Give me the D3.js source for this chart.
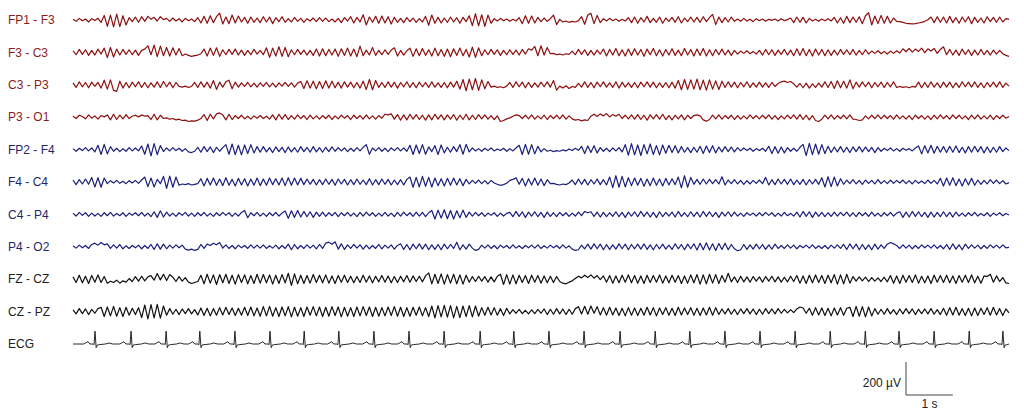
<!DOCTYPE html>
<html>
<head>
<meta charset="utf-8">
<script src="https://cdn.jsdelivr.net/npm/d3@7"></script>
<style>
  body { margin: 0; background: #fff; }
  svg { display: block; }
  text { font-family: "Liberation Sans", Arial, sans-serif; }
</style>
</head>
<body>
<div class="chart"></div>
<script>
// 20 s of bipolar montage, values in µV, 15 samples per second (positive = up)
let duration = 20;

let labels = ['FP1 - F3', 'F3 - C3', 'C3 - P3', 'P3 - O1',
              'FP2 - F4', 'F4 - C4', 'C4 - P4', 'P4 - O2',
              'FZ - CZ', 'CZ - PZ', 'ECG'];

let fp1f3 = [
  4,-8,10,-5,6,-12,8,-3,10,-15,28,-38,30,-42,35,-40,26,-30,14,-10,
  18,-14,20,-8,22,4,16,-6,20,2,10,-8,12,-6,8,-12,10,-4,6,-10,
  14,-18,22,-20,26,-16,20,42,-24,18,-22,30,-18,24,-12,16,-20,18,-14,12,
  -16,20,-12,18,-22,14,-10,20,-14,8,-12,16,-8,10,-14,8,-6,12,-10,14,
  -8,12,-10,6,-12,10,-16,14,-6,20,-18,16,-12,32,-30,18,-14,22,-20,24,
  -18,20,-24,16,-14,10,-16,14,-10,12,-14,8,-12,22,-32,30,-20,16,-18,12,
  -14,18,-12,14,-20,16,-10,26,-34,38,-36,32,-38,30,-20,8,-6,10,-4,6,
  -8,4,-6,14,-22,26,-20,24,-18,16,-10,12,-8,8,30,-28,4,-12,-6,-14,
  -8,-12,-4,20,-26,30,40,-22,28,-16,8,-6,10,-4,6,-8,4,-6,14,-16,
  18,-20,14,-12,22,-16,10,-14,18,-20,12,-8,16,-14,20,-18,12,-10,18,-12,
  16,-14,20,-10,14,34,-28,18,-16,14,-12,18,-8,6,-8,10,-6,4,-10,8,
  -4,6,-8,4,-2,6,-6,8,-4,2,12,-16,18,-14,16,-18,10,-6,4,-8,
  6,-4,8,-6,16,-18,14,-20,22,-16,18,-14,20,-22,26,44,-30,24,-22,28,
  -20,22,-18,12,-8,-10,-14,-20,-22,-24,-22,-18,-14,-8,2,18,-16,20,-14,18,
  -18,22,-16,14,-20,18,-12,20,-22,16,-14,12,-18,20,-10,16,-14,18,-12,8,
  4];

let f3c3 = [
  10,-14,18,-12,16,-18,12,-16,20,-10,26,-32,30,-28,20,-16,18,-12,16,-14,
  14,-18,12,20,40,-14,44,-26,38,-20,30,-22,28,-16,24,-20,-10,-18,-24,-20,
  -16,-8,20,-22,26,-18,28,-24,16,-14,18,-12,20,-16,14,-18,12,-14,18,-10,
  12,-14,28,-30,26,-22,34,-24,30,-26,16,-14,18,-12,14,-16,12,-18,20,-22,
  22,-20,18,-16,20,-24,22,-18,26,-22,20,-26,38,-20,14,-16,30,-18,12,-14,
  16,-12,14,28,-22,12,-16,10,26,-24,22,-20,24,-18,16,-22,26,-20,18,-24,
  20,-26,22,-18,26,-20,18,-28,32,-30,28,-20,16,-14,18,-12,16,-18,12,-14,
  16,-12,14,-16,18,-10,22,14,36,-20,40,-16,30,-8,-6,-14,-10,-16,-8,-12,
  8,-14,18,-12,16,-18,12,-16,14,-10,20,-22,18,-16,24,-20,16,-22,20,-18,
  22,-16,18,-24,20,-14,24,-20,16,-22,18,-16,22,-18,14,-20,24,-16,18,-22,
  20,-18,24,-22,16,-20,18,-14,20,-16,14,-18,12,-10,8,-6,10,-8,6,-10,
  12,-16,18,-14,16,-18,14,-12,18,-16,14,-20,22,-18,24,-20,18,-22,20,-16,
  18,-20,16,-18,14,-16,18,-12,16,-14,18,-16,12,-14,16,-10,8,-6,10,-8,
  6,-10,8,-6,10,-4,22,4,24,2,20,6,26,-2,22,8,24,-6,18,34,
  -14,18,-16,14,-18,20,-12,16,-18,14,-16,18,-14,12,-16,14,-10,12,-8,-18,
  -24];

let c3p3 = [
  12,-16,18,-12,14,-18,16,-10,14,-20,28,-26,30,-34,-40,22,-20,14,-18,16,
  -12,18,-16,14,-18,12,-14,18,-16,20,-12,16,-18,14,-10,-14,-8,-16,-10,14,
  -16,18,-14,16,-20,26,-28,16,-14,18,28,-24,16,-14,12,-10,14,-12,10,-14,
  12,-10,14,-12,10,-14,12,-8,14,-10,12,-14,10,20,-22,24,-20,22,-24,20,
  -22,24,-20,22,-18,16,-20,18,-14,16,-18,14,-20,22,-28,32,-30,26,-16,14,
  -16,18,-14,16,-20,14,-12,18,-16,14,-18,16,-12,14,-16,18,-14,12,-16,14,
  -18,16,-14,22,-26,32,-36,34,-30,38,-34,30,-24,20,-14,-8,-16,-12,-18,-8,
  14,-16,18,-12,16,-18,14,-16,12,-14,16,-12,18,-14,26,-32,-8,-20,-6,-22,
  -10,-16,8,-14,18,-16,14,-18,16,-12,18,-14,12,-16,18,-20,16,-14,12,-16,
  14,-18,16,-12,18,-14,16,-18,12,-16,14,-18,16,-20,26,-30,32,-28,30,-26,
  34,-30,28,-32,30,-26,24,-28,22,-16,18,-14,16,-18,14,-12,18,-16,12,-14,
  16,-14,12,-16,14,-10,8,18,22,14,20,6,-14,8,-18,10,-20,6,-16,10,
  -14,18,-16,20,-22,24,-18,22,-20,30,-24,16,-14,18,-12,16,-18,14,-12,16,
  -16,14,-12,18,-16,-10,-16,-12,-18,-10,-14,16,-18,14,-16,18,-14,12,-18,16,
  -14,16,-18,12,-16,18,-12,16,-14,18,-16,12,-18,14,-12,16,-14,18,-16,10,
  -8];

let p3o1 = [
  6,-8,12,4,-10,14,-6,8,-12,10,2,14,-16,18,-14,12,-10,16,-8,6,
  12,2,14,6,10,-14,18,-16,12,-8,-4,-12,-8,-16,-12,-20,-18,-26,-22,-24,
  -18,-8,16,-20,18,-10,20,26,14,-16,18,-14,10,-8,12,-10,6,-12,8,-6,
  10,-8,6,-12,14,-16,18,-12,16,-14,10,-12,14,-8,10,-14,12,-10,8,-12,
  10,-8,12,-14,8,-10,12,-6,10,-14,12,-8,10,-12,14,-10,8,-12,10,-6,
  18,14,20,-12,16,-18,14,-16,18,-12,16,-14,12,-18,14,-16,18,-12,14,-16,
  14,-12,16,-18,12,-14,18,-16,12,-14,16,-10,14,-12,10,-14,8,-26,-20,-10,
  -4,6,14,10,-8,12,-10,14,-12,8,-10,12,-14,10,-8,12,-10,14,-12,8,
  -10,-18,-14,-22,-16,-20,6,18,4,20,8,22,2,16,6,18,-8,12,-10,14,
  -12,16,-14,12,-18,14,-10,16,-12,18,-14,10,-16,12,-10,14,-16,12,-8,10,
  14,8,-16,-24,-14,12,-10,14,-12,10,-8,12,-14,10,-12,8,-10,14,-8,10,
  -10,12,-8,14,-12,10,-14,8,-10,12,-8,14,-12,16,-14,12,-16,10,-20,-26,
  -12,12,-10,14,-12,10,-8,12,-10,14,-12,-14,-20,-16,8,-10,12,-8,14,-10,
  12,-8,10,-12,14,-10,8,-12,10,-14,12,-8,10,-12,8,-14,12,-10,14,-8,
  10,-12,14,-8,12,-10,8,-14,12,-10,14,-12,8,-10,12,-14,10,-8,12,-6,
  4];

let fp2f4 = [
  6,-10,8,-6,12,-8,10,-14,26,-30,32,-26,18,-10,8,-12,6,-10,12,-8,
  10,-8,22,-28,34,-38,36,-30,24,-12,10,-8,12,-6,8,-10,6,-14,-18,-10,
  14,-16,18,-12,16,-18,14,-10,12,30,-28,34,-30,26,-32,28,-24,30,-20,18,
  -16,18,-14,12,-18,16,-12,14,-18,16,-14,12,-16,18,-12,14,-16,18,-14,12,
  -16,14,-12,16,-10,12,-8,10,-12,8,-10,12,-8,14,30,-28,10,-8,12,-10,
  8,-12,10,-6,12,-8,10,-10,26,-30,28,-24,30,-28,16,-12,24,-30,28,-20,
  14,-16,18,-12,30,-28,32,-14,10,-8,6,-10,8,-6,10,-8,4,-6,8,-10,
  6,-8,10,26,-30,32,-28,30,-26,20,-14,6,-10,-4,-12,-6,-10,-2,-8,4,
  -6,8,-4,20,-24,22,-18,24,-20,12,-10,8,-12,10,-8,12,-14,30,-34,36,
  -32,28,-36,30,-26,34,-30,24,-32,28,-22,26,-18,24,-20,18,-16,12,-18,14,
  -16,20,-24,22,-18,24,-20,16,-14,18,-12,16,-14,12,-8,10,-6,8,-10,6,
  -6,8,-10,20,-24,18,-22,16,-20,12,-10,8,-10,14,32,-36,38,-30,34,-28,
  30,-24,20,-18,16,-14,18,-16,14,-18,16,-12,18,-14,16,-12,14,-18,12,-10,
  8,-6,10,-8,6,-10,8,-4,6,-8,10,22,-26,24,-20,26,-22,20,-16,18,
  -18,20,-16,22,-18,14,-20,18,-16,20,-14,18,-20,16,-18,14,-16,18,-12,10,
  -6];

let f4c4 = [
  12,-16,14,-12,18,-14,28,-30,26,-32,24,-10,8,-6,10,-8,4,-10,8,-6,
  10,-8,12,30,-28,24,-30,16,-10,34,-38,36,-32,30,-20,-12,-16,-10,-18,-14,
  -10,20,-24,22,-18,24,-20,18,-22,26,-20,16,-24,22,-18,20,-24,18,-20,24,
  -22,18,-20,24,-16,20,-18,24,-22,26,-20,24,-18,22,-16,18,-14,16,-18,14,
  -16,18,-14,16,-20,18,-12,16,-18,14,-16,18,-14,12,-16,20,-18,14,-16,18,
  -14,16,-18,12,-16,14,-18,16,30,-32,28,-30,34,-26,28,-30,24,-22,20,-24,
  22,-20,24,-18,20,-22,16,-12,10,-8,12,-10,8,-12,10,-6,-14,-20,-16,-8,
  10,16,26,-14,22,-24,20,-18,24,-20,18,-22,14,-10,-8,-14,-18,-12,-16,-6,
  12,-16,18,-14,16,-18,14,-12,18,-16,14,-18,30,-34,38,-32,34,-30,26,-22,
  24,-20,22,-26,18,-22,24,-20,18,-24,22,-18,20,-16,30,-36,38,-32,28,-14,
  16,-14,18,-12,16,-10,14,-12,32,-18,12,-10,14,-12,10,-14,8,-12,10,-8,
  12,-10,28,-18,14,-16,18,-12,16,-14,18,-16,12,-14,16,-18,14,-12,16,-14,
  26,-30,32,-28,30,-24,20,-14,12,-10,14,-12,10,-14,12,-8,10,-12,14,-10,
  8,-10,12,-8,10,-6,12,-10,8,-12,10,-8,6,-10,12,-8,10,-12,22,-24,
  24,-20,26,-22,18,-24,20,-18,22,-20,12,-14,10,-12,14,-8,12,-10,8,-12,
  -4];

let c4p4 = [
  8,-10,12,-6,10,-12,8,-10,6,-12,10,-8,12,-10,6,-8,10,-12,8,-6,
  10,-8,12,-10,8,-14,16,-18,22,-16,14,-10,8,-12,10,-6,12,-10,8,-12,
  10,-8,12,-10,6,-12,10,-8,12,-6,10,-12,8,-10,12,24,-20,10,-8,12,
  -10,8,-12,10,-8,12,-10,8,20,-24,22,-18,24,-16,18,-14,16,-18,14,-12,
  14,-12,10,-8,12,-14,10,-8,12,-10,8,-14,12,-10,14,-8,10,-12,8,-10,
  12,-10,8,-14,12,-10,14,-8,10,-12,14,-10,12,-14,10,24,-28,26,-22,28,
  -26,24,-28,22,-20,26,-18,14,-10,12,-8,10,-12,8,-6,10,-12,8,-10,6,
  12,-14,18,-12,16,-18,14,-10,16,-14,12,-18,14,-12,10,-14,12,-8,10,-12,
  8,-10,14,-8,18,10,16,-12,14,-16,12,-14,10,-12,16,-14,12,-18,14,-10,
  16,-14,18,-12,14,-16,12,-18,16,-14,12,-10,14,-16,18,-12,10,-14,16,-12,
  14,-16,18,-12,16,-14,12,-18,14,-10,16,-12,14,-10,8,-12,10,-6,8,-10,
  10,-8,12,-6,10,-12,8,-10,12,-8,6,-10,14,-16,18,-12,16,-18,14,-12,
  12,-14,10,-12,14,-10,12,-8,14,-12,10,-14,12,-8,10,-12,14,-10,8,-12,
  10,-8,12,-10,8,16,-18,14,-16,18,-12,16,-14,12,-18,14,-16,12,-14,16,
  -14,12,-16,14,-10,8,-12,10,-8,12,-10,6,-8,10,-12,8,-6,10,-8,6,
  -4];

let p4o2 = [
  6,-8,10,-6,8,-10,14,22,10,26,12,18,-10,12,-8,14,-12,6,-10,8,
  -6,10,-12,8,-10,14,-16,18,-14,16,-12,10,-8,12,-6,10,-14,-20,-14,-22,
  -16,14,-10,16,8,22,12,26,-8,12,-10,8,-12,10,-6,8,-10,12,-8,10,
  -8,12,-10,6,-8,10,-12,8,-10,16,-18,14,-12,8,-10,12,-8,10,-12,14,
  -10,22,28,16,30,-14,18,-16,12,-10,14,-8,12,-14,10,-12,8,-10,14,-12,
  10,-8,12,-14,8,18,-16,14,-18,16,-12,18,-14,16,-18,12,-16,14,-18,16,
  -12,14,-10,28,-18,12,-14,16,-8,-22,-16,10,-8,12,-10,8,-12,10,-6,8,
  -10,12,-8,6,-10,8,-6,10,-8,12,-10,6,-8,10,-6,8,-10,12,-8,6,
  -14,-22,-18,10,-12,16,-14,18,-12,16,-18,14,-16,12,-14,18,-12,16,-18,14,
  -12,16,-14,18,-16,12,-18,14,-12,16,-14,10,-16,18,-12,14,-18,16,-12,18,
  -20,22,-18,24,-20,18,-22,20,-16,22,-18,14,-12,-24,-18,14,-16,12,-14,16,
  -12,14,-16,12,-14,16,-10,8,-10,12,-8,10,-12,8,-6,10,-8,12,-10,6,
  -10,8,-12,10,-8,12,-10,14,-16,18,-12,16,-18,14,-16,12,-18,16,-14,12,
  -10,16,26,18,8,-10,12,-8,10,-12,8,-10,12,-6,10,-8,12,-10,8,-12,
  14,-16,18,-14,12,-18,16,-10,12,-8,10,-12,8,-10,12,-6,10,-8,12,-6,
  -4];

let fzcz = [
  14,-20,24,-22,18,-26,22,-18,26,-20,16,-24,-12,-20,-6,-24,-10,-18,4,-14,
  16,-12,18,-10,14,22,-6,34,-4,30,-8,28,12,-14,16,-12,10,-18,-26,-20,
  -14,24,-28,30,-24,26,-32,28,-22,30,-26,24,-30,28,-20,26,-28,22,-26,30,
  -24,28,-22,26,-30,24,-26,28,-22,36,-38,32,-28,24,-26,22,-24,28,-20,24,
  -22,26,-24,20,-26,22,-18,24,-20,18,-22,16,-20,24,-18,20,-22,18,-16,22,
  -18,20,-22,16,-20,18,-16,22,-18,20,-14,18,-16,20,38,-28,30,-26,32,-30,
  28,-24,30,-28,26,-30,24,-18,16,-14,18,-12,16,-18,14,-16,18,30,-32,28,
  -30,26,-28,24,-20,22,-26,24,-18,22,-24,20,-22,18,-20,16,-14,-24,-28,-18,
  -10,4,18,8,24,10,26,6,22,-2,20,-18,22,-24,20,-22,24,-18,26,-22,
  22,-24,20,-26,24,-20,22,-18,26,-24,20,-22,24,-18,22,-26,20,-24,26,-22,
  28,-30,26,-28,30,-24,28,-26,22,-18,36,-16,14,-20,18,-16,14,-18,16,-12,
  14,-18,16,-12,18,-16,14,-18,12,-16,18,-14,22,-24,20,-26,24,-22,26,-20,
  22,-26,24,-22,28,-30,26,-28,30,-24,16,-12,14,-10,12,-14,10,-12,8,-14,
  12,-16,22,-24,20,-26,24,-18,22,-20,26,-24,18,-22,20,-26,24,-18,22,-20,
  24,-22,20,-26,22,-18,24,-20,26,-22,18,-24,20,16,30,-18,20,-14,10,-22,
  -26];

let czpz = [
  10,-14,18,-12,16,-18,14,-10,18,26,-30,28,-26,32,-28,24,-30,26,-22,20,
  -18,24,-36,40,-44,42,-38,44,-40,34,-22,18,-16,14,-18,16,-12,18,-14,12,
  -20,22,-24,20,-26,18,-22,24,-20,26,-18,22,-24,20,-22,26,-24,28,-26,22,
  -28,30,-26,32,-28,24,-30,28,-26,30,-32,26,-28,24,-30,28,-22,30,-26,28,
  -30,26,-28,30,-24,28,-32,26,-28,24,-30,28,-26,30,-24,28,-30,26,-28,24,
  -26,28,-24,30,-28,26,-30,24,-28,26,-22,28,-26,24,-30,34,-38,36,-32,38,
  -34,36,-38,32,-36,34,-30,36,-32,34,-28,24,-22,26,-20,24,-22,18,-24,20,
  -14,12,-10,14,-12,8,-14,10,-12,14,-10,16,-18,14,-16,18,-14,16,-18,14,
  -16,18,30,-14,32,-16,34,-10,30,-20,24,-22,26,-20,22,-24,20,-26,24,-22,
  22,-24,20,-22,26,-20,24,-26,22,-18,24,-22,20,-24,26,-20,22,-18,24,-22,
  20,-24,22,-20,26,-22,24,-18,16,-14,18,-16,14,-18,16,-12,18,-14,16,-18,
  14,-16,18,-12,16,-14,18,-10,14,-8,12,-6,16,28,22,-10,20,-22,24,-20,
  22,-24,20,-26,22,-20,24,-22,20,26,-30,32,-28,30,-32,28,-26,18,-16,14,
  -16,18,-14,12,-18,16,-14,18,-12,16,-18,14,-12,16,-14,18,-16,12,-18,20,
  -22,24,-20,26,-22,18,-24,20,-26,22,-24,20,-18,24,-22,26,-20,18,-24,16,
  -8];

// ECG: R-peak times (s) and one beat shape (offset from R in s, µV)
let ecgPeaks = [0.47, 1.24, 1.99, 2.71, 3.46, 4.21, 4.94, 5.68, 6.43, 7.18,
                7.93, 8.70, 9.42, 10.17, 10.92, 11.69, 12.44, 13.18, 13.93, 14.68,
                15.43, 16.18, 16.93, 17.65, 18.40, 19.15, 19.87];
let ecgOffsets = [-0.24, -0.19, -0.15, -0.11, -0.04, -0.02, 0, 0.025, 0.05, 0.09, 0.22, 0.30, 0.38];
let ecgValues  = [0, 8, 14, 0, 0, -4, 78, -22, -6, -4, 0, 6, 0];

let width = 1024;
let height = 416;

let red = '#8c1010', blue = '#1c1f7a', black = '#111111';
let channels = [
  {label: labels[0], values: fp1f3, color: red,  text: '#8a1c1c'},
  {label: labels[1], values: f3c3,  color: red,  text: '#8a1c1c'},
  {label: labels[2], values: c3p3,  color: red,  text: '#8a1c1c'},
  {label: labels[3], values: p3o1,  color: red,  text: '#8a1c1c'},
  {label: labels[4], values: fp2f4, color: blue, text: '#1f2766'},
  {label: labels[5], values: f4c4,  color: blue, text: '#1f2766'},
  {label: labels[6], values: c4p4,  color: blue, text: '#1f2766'},
  {label: labels[7], values: p4o2,  color: blue, text: '#1f2766'},
  {label: labels[8], values: fzcz,  color: black, text: '#222'},
  {label: labels[9], values: czpz,  color: black, text: '#222'}
];

let svg = d3.select('.chart')
            .append('svg')
            .attr('width', width)
            .attr('height', height);

let x = d3.scaleLinear().domain([0, duration]).range([73, 1009]);
let row = d3.scalePoint().domain(labels).range([20, 344]);
let amp = d3.scaleLinear().domain([-200, 200]).range([33, -33]);

let line = d3.line()
             .x(d => x(d[0]))
             .y(d => d[1]);

channels.forEach(ch => {
  let n = ch.values.length;
  let pts = ch.values.map((v, i) => [i * duration / (n - 1), row(ch.label) + amp(v)]);
  svg.append('path')
     .attr('d', line(pts))
     .attr('fill', 'none')
     .attr('stroke', ch.color)
     .attr('stroke-width', 1.2)
     .attr('stroke-linejoin', 'round');
});

// ECG trace
let ecgPts = [[0, 0]];
ecgPeaks.forEach(p => {
  ecgOffsets.forEach((o, k) => {
    let t = p + o;
    if (t > 0 && t < duration) ecgPts.push([t, ecgValues[k]]);
  });
});
ecgPts.push([duration, 0]);
svg.append('path')
   .attr('d', line(ecgPts.map(d => [d[0], row('ECG') + amp(d[1])])))
   .attr('fill', 'none')
   .attr('stroke', black)
   .attr('stroke-width', 0.9);

// channel labels
svg.selectAll('text.label')
   .data(labels)
   .enter()
   .append('text')
   .attr('class', 'label')
   .attr('x', 8)
   .attr('y', d => row(d))
   .attr('dy', '0.35em')
   .attr('font-size', 12)
   .attr('fill', (d, i) => i < channels.length ? channels[i].text : '#222')
   .text(d => d);

// calibration bar: 200 µV / 1 s
let t0 = x.invert(906);
let barBottom = 395;
svg.append('path')
   .attr('d', 'M' + x(t0) + ',' + (barBottom - (amp(0) - amp(200))) +
              'V' + barBottom + 'H' + x(t0 + 1))
   .attr('fill', 'none')
   .attr('stroke', '#444')
   .attr('stroke-width', 1);
svg.append('text')
   .attr('x', x(t0) - 5)
   .attr('y', 383)
   .attr('dy', '0.35em')
   .attr('text-anchor', 'end')
   .attr('font-size', 12)
   .attr('fill', '#222')
   .text('200 µV');
svg.append('text')
   .attr('x', x(t0 + 0.5))
   .attr('y', 404)
   .attr('dy', '0.35em')
   .attr('text-anchor', 'middle')
   .attr('font-size', 12)
   .attr('fill', '#222')
   .text('1 s');
</script>
</body>
</html>
